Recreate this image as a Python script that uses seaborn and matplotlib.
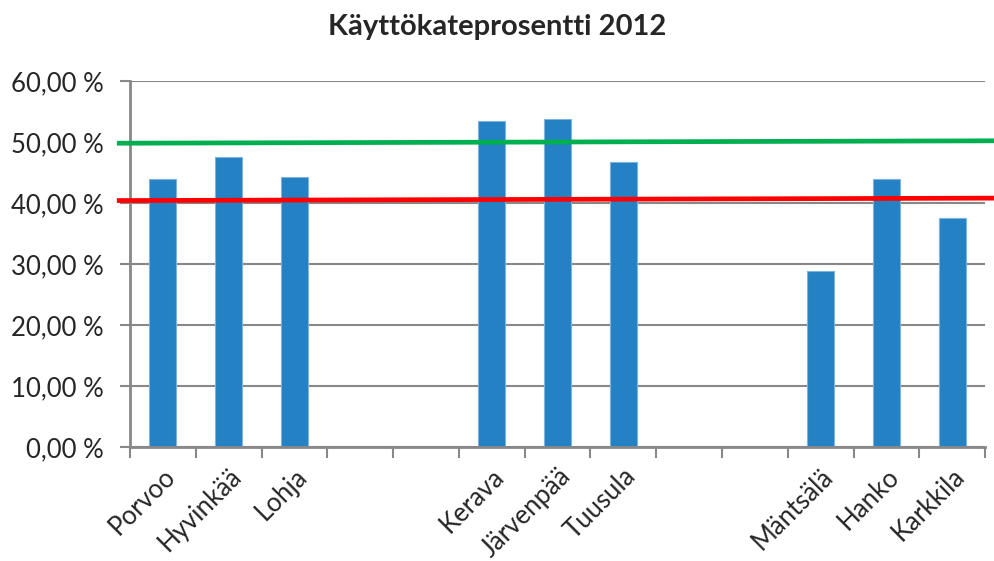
"""Käyttökateprosentti 2012 - pylväskaavio."""

import numpy as np
import pandas as pd
import matplotlib
matplotlib.use('Agg')
import matplotlib.pyplot as plt
import seaborn as sns

# Data (tyhjät paikat = None)
kunnat = ["Porvoo", "Hyvinkää", "Lohja", "", "", "Kerava", "Järvenpää",
          "Tuusula", "", "", "Mäntsälä", "Hanko", "Karkkila"]
arvot = [44.0, 47.5, 44.3, None, None, 53.4, 53.7, 46.7, None, None,
         28.8, 43.9, 37.5]

# viitaviivat (vasen ja oikea pää, %)
vihrea_viiva = [49.8, 50.2]
punainen_viiva = [40.4, 40.8]
viiva_x = [-0.7, 12.65]

yticks = [0, 10, 20, 30, 40, 50, 60]

sns.set_style("white")
plt.rcParams['font.family'] = ['Lato', 'DejaVu Sans']

df = pd.DataFrame({'paikka': range(len(kunnat)), 'arvo': arvot}).dropna()

fig = plt.figure(figsize=(9.95, 5.61), dpi=100)
ax = fig.add_axes([0.1307, 0.2032, 0.8593, 0.6524])

grey = '#888888'
ax.set_axisbelow(True)
ax.yaxis.grid(True, color=grey, linewidth=1.5)

sns.barplot(data=df, x='paikka', y='arvo', order=list(range(len(kunnat))),
            color='#2481c3', saturation=1, width=0.41, ax=ax,
            edgecolor='#7fb3dd', linewidth=0.8)

ax.plot(viiva_x, vihrea_viiva, color='#00b050', linewidth=3.4,
        clip_on=False, solid_capstyle='butt', zorder=5)
ax.plot(viiva_x, punainen_viiva, color='#ff0000', linewidth=3.4,
        clip_on=False, solid_capstyle='butt', zorder=5)

ax.set_xlim(-0.5, len(kunnat) - 0.5)
ax.set_ylim(0, 60)
ax.set_yticks(yticks)
ax.set_yticklabels([f"{v},00 %" for v in yticks], fontsize=18.5)

# jakoviivat kategorioiden välissä, nimet keskellä
ax.set_xticks(np.arange(-0.5, len(kunnat)), minor=False)
ax.set_xticklabels([])
ax.set_xticks(np.arange(len(kunnat)), minor=True)
ax.set_xticklabels(kunnat, minor=True, rotation=45, ha='right', va='top',
                   rotation_mode='anchor', fontsize=18.5)
ax.tick_params(axis='x', which='major', length=8, width=1.5, color=grey,
               direction='out', bottom=True)
ax.tick_params(axis='x', which='minor', length=0, pad=12)
ax.tick_params(axis='y', length=7, width=1.5, color=grey, direction='out',
               left=True, pad=12)

for side in ['top', 'right']:
    ax.spines[side].set_visible(False)
for side in ['left', 'bottom']:
    ax.spines[side].set_color(grey)
    ax.spines[side].set_linewidth(2)

ax.set_xlabel('')
ax.set_ylabel('')
fig.suptitle('Käyttökateprosentti 2012', fontsize=21, fontweight='bold',
             y=0.975)

plt.savefig('out.png', dpi=100)
plt.close()
